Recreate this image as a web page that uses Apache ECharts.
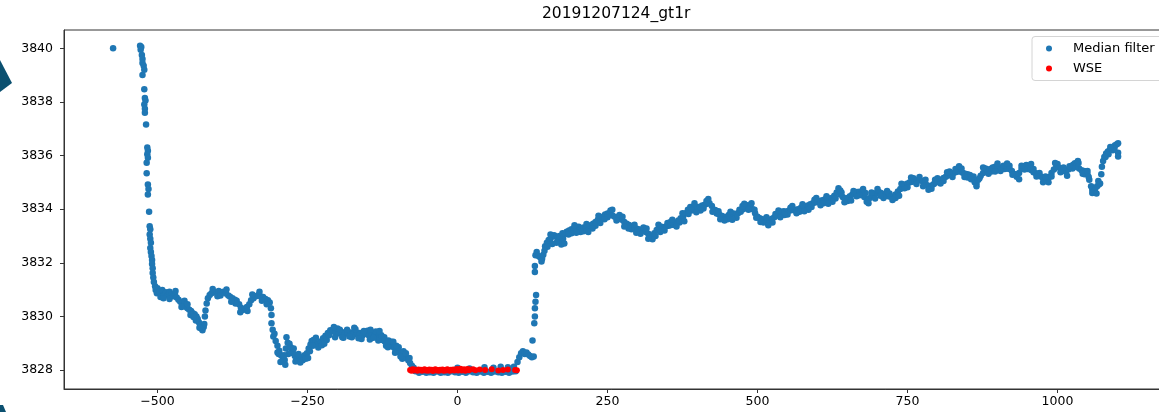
<!DOCTYPE html>
<html>
<head>
<meta charset="utf-8">
<script src="https://cdn.jsdelivr.net/npm/echarts@6/dist/echarts.min.js"></script>
<style>
html,body{margin:0;padding:0;background:#fff;}
#chart{width:1159px;height:412px;}
</style>
</head>
<body>
<div id="chart"></div>
<script>
// ---- data ----
const chartTitle = '20191207124_gt1r';
const seriesNames = ['Median filter', 'WSE'];
const xTickValues = [-500, -250, 0, 250, 500, 750, 1000];
const yTickValues = [3828, 3830, 3832, 3834, 3836, 3838, 3840];

// Median filter points: [along-track distance, elevation]
const medianFilter = [
  [-574,3840.0],
  [-529,3840.1],[-527,3840.05],[-528,3839.95],[-526,3839.75],[-525,3839.6],[-525,3839.45],[-523,3839.35],[-522,3839.2],[-525,3839.0],
  [-522,3838.47],[-521,3838.15],[-520,3838.05],[-522,3837.9],[-521,3837.75],[-521,3837.6],[-519,3837.16],
  [-517,3836.3],[-516,3836.18],[-517,3836.05],[-516,3835.92],[-518,3835.73],[-518,3835.34],[-516,3834.92],[-515,3834.75],[-516,3834.55],[-514,3833.9],[-513,3833.36],[-512,3833.25],[-513,3833.05],[-512,3832.9],[-511,3832.75],[-512,3832.55],[-511,3832.4],[-510,3832.25],[-509,3832.1],[-509,3831.95],[-508,3831.8],[-508,3831.62],[-507,3831.45],[-506,3831.28],[-504,3831.12],[-503,3830.98],[-501,3830.86],[-500,3831.05],
  [-497,3830.92],[-495,3830.72],[-492,3830.98],[-489,3830.8],[-486,3830.9],[-483,3830.78],[-480,3830.92],[-477,3830.82],[-474,3830.75],[-471,3830.85],[-468,3830.7],[-465,3830.62],[-462,3830.55],[-459,3830.5],[-456,3830.42],[-453,3830.36],[-450,3830.3],[-447,3830.25],[-444,3830.2],[-441,3830.12],[-438,3830.08],[-435,3830.0],[-433,3829.9],[-431,3829.78],[-429,3829.68],[-427,3829.55],[-425,3829.48],[-423,3829.6],[-422,3829.72],
  [-490,3830.68],[-480,3830.65],[-470,3830.95],[-455,3830.58],[-445,3830.05],[-436,3829.85],[-460,3830.35],[-450,3830.45],[-440,3829.98],[-430,3829.58],
  [-421,3830.0],[-420,3830.22],[-418,3830.48],[-416,3830.68],[-413,3830.8],[-410,3830.86],[-406,3830.92],[-402,3830.88],[-398,3830.95],[-394,3830.9],[-390,3830.92],[-386,3830.85],[-382,3830.78],[-379,3830.73],[-375,3830.68],[-371,3830.62],[-368,3830.58],[-364,3830.45],[-361,3830.32],[-358,3830.24],[-355,3830.28],[-351,3830.35],[-347,3830.45],[-344,3830.6],[-340,3830.68],[-336,3830.75],[-332,3830.8],[-328,3830.74],[-324,3830.72],[-320,3830.65],[-316,3830.6],[-313,3830.52],[-311,3830.3],[-310,3830.05],
  [-400,3830.75],[-385,3831.0],[-370,3830.48],[-350,3830.2],[-330,3830.92],[-318,3830.45],[-408,3831.02],[-395,3830.78],[-377,3830.55],[-362,3830.15],[-342,3830.82],[-326,3830.58],
  [-310,3829.74],[-308,3829.5],[-307,3829.25],[-303,3829.08],[-300,3828.9],[-297,3828.72],[-294,3828.55],[-291,3828.42],[-288,3828.37],[-286,3828.8],[-285,3829.22],[-283,3829.02],[-280,3828.98],[-277,3828.78],[-274,3828.62],[-271,3828.52],[-267,3828.46],[-263,3828.43],[-259,3828.48],[-255,3828.55],[-251,3828.62],[-248,3828.8],[-245,3828.95],[-243,3829.08],[-240,3829.12],[-237,3829.02],[-234,3828.96],[-231,3829.0],[-228,3829.06],[-224,3829.18],[-220,3829.28],[-216,3829.38],[-212,3829.48],[-208,3829.44],[-203,3829.4],[-198,3829.36],[-193,3829.42],[-188,3829.38],[-183,3829.35],[-178,3829.4],[-173,3829.36],[-168,3829.32],[-163,3829.38],[-158,3829.3],[-153,3829.35],[-148,3829.3],[-143,3829.34],[-138,3829.28],[-133,3829.36],[-129,3829.22],[-125,3829.12],[-121,3829.06],[-117,3829.02],[-113,3828.94],[-109,3828.88],[-105,3828.82],[-101,3828.76],[-97,3828.66],[-93,3828.6],[-89,3828.52],[-85,3828.46],[-82,3828.36],[-79,3828.26],[-76,3828.16],[-73,3828.08],
  [-295,3828.3],[-282,3828.6],[-270,3828.32],[-258,3828.36],[-246,3828.7],[-232,3828.84],[-218,3829.12],[-204,3829.22],[-190,3829.2],[-176,3829.22],[-160,3829.16],[-146,3829.14],[-132,3829.1],[-119,3828.9],[-104,3828.64],[-92,3828.42],
  [-200,3829.55],[-184,3829.5],[-170,3829.52],[-150,3829.46],[-136,3829.44],[-122,3829.22],[-110,3829.05],[-98,3828.85],
  [-305,3829.35],[-298,3828.6],[-289,3828.55],[-278,3828.85],[-265,3828.6],[-253,3828.42],[-241,3828.9],[-226,3828.92],[-214,3829.3],[-196,3829.5],[-180,3829.25],[-156,3829.45],[-140,3829.2],[-127,3829.3],[-115,3829.1],[-102,3828.9],[-90,3828.7],[-80,3828.45],
  [-300,3828.65],[-287,3828.2],[-273,3828.8],[-262,3828.28],[-249,3828.45],[-236,3829.2],[-222,3828.98],[-206,3829.6],[-192,3829.22],[-172,3829.58],[-165,3829.18],[-145,3829.5],[-130,3829.45],[-116,3828.85],[-107,3829.05],[-95,3828.5],[-86,3828.62],
  [-70,3827.95],[-64,3827.9],[-58,3827.93],[-52,3827.9],[-46,3827.92],[-40,3827.9],[-34,3827.94],[-28,3827.9],[-22,3827.92],[-16,3827.9],[-10,3827.95],[-4,3827.92],[2,3827.9],[8,3827.93],[14,3827.9],[20,3827.95],[26,3827.92],[32,3827.9],[38,3827.94],[44,3827.9],[50,3827.93],[56,3827.9],[62,3827.94],[68,3827.92],[74,3827.9],[80,3827.93],[86,3827.9],[92,3827.94],[97,3827.95],
  [0,3828.08],[20,3828.06],[45,3828.1],[60,3828.08],[72,3828.12],[84,3828.1],[94,3828.12],
  [100,3828.3],[103,3828.48],[106,3828.62],[109,3828.7],[112,3828.6],[115,3828.65],[118,3828.58],[121,3828.52],[124,3828.48],[127,3828.5],[125,3829.1],[128,3829.74],[129,3830.0],[129,3830.3],[130,3830.55],[131,3830.8],[129,3831.66],[129,3831.88],[130,3832.28],[132,3832.4],[135,3832.25],[138,3832.2],[141,3832.15],[143,3832.3],[146,3832.62],[149,3832.75],[152,3832.85],[155,3832.9],[158,3832.98],[161,3833.03],[164,3832.98],[167,3832.9],[170,3832.85],[173,3832.68],[176,3832.9],[179,3833.08],[182,3833.16],[186,3833.2],[190,3833.25],[194,3833.22],[198,3833.3],[202,3833.34],[206,3833.28],[210,3833.32],[214,3833.3],[218,3833.36],[222,3833.4],[226,3833.46],[230,3833.52],[234,3833.6],[238,3833.66],[242,3833.72],[246,3833.8],[250,3833.84],[254,3833.82],[258,3833.76],[262,3833.72],[266,3833.7],[270,3833.66],[274,3833.6],[278,3833.52],[282,3833.46],[286,3833.41],[290,3833.36],[294,3833.3],[298,3833.28],[302,3833.25],[306,3833.22],[310,3833.2],[314,3833.15],[318,3833.08],[322,3833.02],[325,3832.97],[328,3833.1],[332,3833.22],[336,3833.3],[340,3833.34],[344,3833.32],[348,3833.36],[352,3833.38],[356,3833.41],[360,3833.42],[364,3833.5],[368,3833.58],[372,3833.66],[376,3833.72],[380,3833.85],[384,3833.98],[388,3834.08],[392,3834.05],[396,3834.1],[400,3834.06],[404,3834.09],[408,3834.14],[412,3834.16],[416,3834.2],[420,3834.22],[424,3834.12],[428,3833.98],[432,3833.84],[436,3833.8],[440,3833.75],[444,3833.72],[448,3833.7],[452,3833.78],[456,3833.8],[460,3833.84],[464,3833.82],[468,3833.86],[472,3833.9],[476,3834.0],[480,3834.1],[484,3834.15],[488,3834.12],[492,3834.0],[496,3833.85],[500,3833.72],[504,3833.66],[508,3833.62],[512,3833.6],[516,3833.58],[520,3833.59],[524,3833.64],[528,3833.7],[532,3833.76],[536,3833.84],[540,3833.9],[544,3833.92],[548,3833.9],[552,3833.94],[556,3833.96],[560,3833.97],[564,3833.98],[568,3834.0],[572,3834.04],[576,3834.08],[580,3834.1],[584,3834.14],[588,3834.18],[592,3834.22],[596,3834.25],[600,3834.28],[604,3834.3],[608,3834.33],[612,3834.36],[616,3834.38],[620,3834.4],[624,3834.42],[628,3834.5],[632,3834.62],[635,3834.78],[638,3834.55],[642,3834.45],[646,3834.4],[650,3834.42],[654,3834.48],[658,3834.55],[662,3834.6],[666,3834.64],[670,3834.65],[674,3834.58],[678,3834.45],[682,3834.28],[686,3834.4],[690,3834.5],[694,3834.56],[698,3834.6],[702,3834.65],[706,3834.6],[710,3834.55],[714,3834.5],[718,3834.48],[722,3834.46],[726,3834.46],[730,3834.55],[734,3834.66],[738,3834.75],[742,3834.85],[746,3834.92],[750,3834.96],[754,3835.0],[758,3835.02],[762,3835.05],[766,3835.08],[770,3835.09],[774,3835.05],[778,3834.98],[782,3834.9],[786,3834.85],[790,3834.88],[794,3834.94],[798,3835.0],[802,3835.05],[806,3835.1],[810,3835.16],[814,3835.21],[818,3835.26],[822,3835.3],[826,3835.34],[830,3835.38],[834,3835.4],[838,3835.4],[842,3835.36],[846,3835.32],[850,3835.3],[854,3835.27],[858,3835.15],[862,3835.0],[865,3834.96],[868,3835.1],[872,3835.25],[876,3835.35],[880,3835.4],[884,3835.44],[888,3835.5],[892,3835.55],[896,3835.58],[900,3835.58],[904,3835.55],[908,3835.52],[912,3835.5],[916,3835.52],[920,3835.5],[924,3835.42],[928,3835.3],[932,3835.21],[936,3835.35],[940,3835.5],[944,3835.6],[948,3835.65],[952,3835.58],[956,3835.46],[960,3835.38],[964,3835.34],[968,3835.3],[972,3835.22],[976,3835.15],[980,3835.1],[983,3835.09],[986,3835.2],[990,3835.35],[994,3835.48],[998,3835.58],[1002,3835.55],[1006,3835.48],[1010,3835.42],[1014,3835.4],[1018,3835.48],[1022,3835.58],[1026,3835.66],[1029,3835.71],[1032,3835.62],[1036,3835.52],[1040,3835.45],[1044,3835.42],[1047,3835.4],[1050,3835.3],[1053,3835.1],[1056,3834.85],[1058,3834.72],[1060,3834.65],[1063,3834.78],[1066,3834.85],[1069,3834.92],[1071,3834.96],[1073,3835.3],[1074,3835.58],[1076,3835.8],[1078,3835.95],[1081,3836.08],[1084,3836.15],[1087,3836.2],[1090,3836.28],[1093,3836.33],[1096,3836.38],[1099,3836.42],[1101,3836.46],[1101,3836.1],[1101,3835.96],
  [150,3832.6],[170,3833.0],[190,3833.1],[210,3833.18],[230,3833.38],[250,3833.7],[270,3833.78],[290,3833.25],[310,3833.32],[330,3833.0],[350,3833.48],[370,3833.5],[390,3833.95],[410,3834.02],[430,3833.96],[450,3833.62],[470,3833.98],[490,3834.22],[510,3833.5],[530,3833.82],[550,3833.8],[570,3833.9],[590,3834.08],[610,3834.22],[630,3834.4],[650,3834.3],[670,3834.52],[690,3834.62],[710,3834.42],[730,3834.42],[750,3834.82],[770,3835.2],[790,3834.76],[810,3835.05],[830,3835.5],[850,3835.18],[870,3835.15],[890,3835.4],[910,3835.62],[930,3835.3],[950,3835.5],[970,3835.35],[990,3835.22],[1010,3835.55],[1030,3835.58],[1045,3835.3],[1062,3834.7],[1085,3836.05],[1095,3836.25],
  [145,3832.45],[165,3832.75],[185,3833.05],[205,3833.15],[225,3833.28],[245,3833.62],[265,3833.58],[285,3833.28],[305,3833.08],[325,3832.88],[345,3833.2],[365,3833.35],[385,3833.82],[405,3833.95],[425,3833.9],[445,3833.58],[465,3833.68],[485,3833.98],[505,3833.52],[525,3833.5],[545,3833.78],[565,3833.85],[585,3833.98],[605,3834.15],[625,3834.28],[645,3834.26],[665,3834.48],[685,3834.22],[705,3834.5],[725,3834.34],[745,3834.78],[765,3834.94],[785,3834.72],[805,3834.96],[825,3835.2],[845,3835.2],[865,3834.85],[885,3835.32],[905,3835.42],[925,3835.28],[945,3835.48],[965,3835.22],[985,3835.0],[1005,3835.38],[1025,3835.52],[1042,3835.32],[1058,3834.6],[1080,3835.95],[1092,3836.2],
  [155,3833.05],[175,3833.1],[195,3833.4],[215,3833.45],[235,3833.75],[255,3833.95],[275,3833.72],[295,3833.42],[315,3833.28],[335,3833.42],[355,3833.52],[375,3833.85],[395,3834.22],[415,3834.3],[435,3833.92],[455,3833.9],[475,3834.12],[495,3833.98],[515,3833.7],[535,3833.95],[555,3834.05],[575,3834.18],[595,3834.35],[615,3834.48],[640,3834.62],[660,3834.68],[680,3834.6],[700,3834.75],[720,3834.58],[740,3834.95],[760,3835.15],[780,3835.1],[800,3835.15],[820,3835.4],[840,3835.52],[860,3835.22],[880,3835.52],[900,3835.7],[920,3835.62],[940,3835.62],[960,3835.5],[980,3835.22],[1000,3835.68],[1020,3835.6],[1035,3835.72],[1050,3835.42],[1068,3835.05],[1088,3836.32],
  [140,3832.05],[158,3832.7],[178,3832.72],[198,3833.12],[218,3833.15],[238,3833.48],[258,3833.98],[278,3833.35],[298,3833.12],[318,3832.9],[338,3833.15],[358,3833.6],[378,3833.55],[398,3833.88],[418,3834.38],[438,3833.62],[458,3833.6],[478,3834.2],[498,3833.68],[518,3833.4],[538,3833.7],[558,3834.12],[578,3833.92],[598,3834.42],[618,3834.2],[638,3834.7],[656,3834.32],[676,3834.75],[696,3834.4],[716,3834.68],[736,3834.5],[756,3835.18],[776,3834.85],[796,3835.1],[816,3835.38],[836,3835.6],[856,3835.12],[876,3835.55],[896,3835.4],[916,3835.7],[936,3835.12],[956,3835.68],[976,3835.0],[996,3835.72],[1016,3835.25],[1034,3835.8],[1052,3835.2],[1065,3834.58]
];

// WSE points: [along-track distance, elevation]
const wse = [
  [-79,3828.0],[-77,3827.97],[-75,3828.03],[-73,3827.98],[-71,3828.02],[-69,3828.0],[-67,3827.97],[-65,3828.02],[-63,3827.99],[-61,3828.01],[-59,3827.97],[-57,3828.0],[-55,3828.03],[-53,3827.98],[-51,3828.0],[-49,3827.97],[-47,3828.02],[-45,3827.99],[-43,3828.01],[-41,3827.96],[-39,3828.0],[-37,3828.03],[-35,3827.98],[-33,3828.0],[-31,3827.97],[-29,3828.01],[-27,3827.99],[-25,3828.02],[-23,3827.97],[-21,3828.0],[-19,3827.98],[-17,3828.03],[-15,3828.0],[-13,3827.97],[-11,3828.01],[-9,3827.99],[-7,3828.02],[-5,3827.98],[-3,3828.0],[-1,3828.04],[1,3827.98],[3,3828.01],[5,3828.05],[7,3827.98],[9,3828.0],[11,3828.03],[13,3827.97],[15,3828.01],[17,3828.04],[19,3827.99],[21,3828.02],[26,3828.03],[30,3827.99],[37,3828.02],[46,3828.0],[57,3828.03],[68,3827.98],[76,3828.0],[84,3828.02],[96,3828.0],[99,3827.99]
];

const FONT = 'DejaVu Sans';
const chart = echarts.init(document.getElementById('chart'), null, {renderer: 'canvas'});
const option = {
  animation: false,
  backgroundColor: '#ffffff',
  title: {
    text: chartTitle,
    left: 542, top: 6, padding: 0,
    textStyle: {fontFamily: FONT, fontSize: 15.5, fontWeight: 'normal', color: '#000'}
  },
  legend: {
    data: seriesNames,
    orient: 'vertical',
    left: 1032, top: 36.5,
    padding: [5, 40, 5, 14],
    itemWidth: 6, itemHeight: 6, itemGap: 6,
    icon: 'circle',
    borderColor: '#d4d4d4', borderWidth: 1, borderRadius: 3,
    backgroundColor: '#ffffff',
    textStyle: {fontFamily: FONT, fontSize: 13, color: '#000', lineHeight: 14, padding: [0, 0, 0, 16]}
  },
  grid: {
    left: 64, top: 30, width: 1104.5, height: 359,
    outerBoundsMode: 'none',
    show: true, borderColor: '#333', borderWidth: 1, backgroundColor: 'transparent'
  },
  xAxis: {
    type: 'value', min: -655.8, max: 1185,
    splitLine: {show: false},
    axisLine: {show: true, onZero: false, lineStyle: {color: '#333', width: 1}},
    axisTick: {show: true, length: 4, customValues: xTickValues, lineStyle: {color: '#333'}},
    axisLabel: {
      customValues: xTickValues, margin: 6,
      fontFamily: FONT, fontSize: 12.5, color: '#000',
      formatter: v => String(v).replace('-', '\u2212')
    }
  },
  yAxis: {
    type: 'value', min: 3827.291, max: 3840.683,
    splitLine: {show: false},
    axisLine: {show: true, onZero: false, lineStyle: {color: '#333', width: 1}},
    axisTick: {show: true, length: 4, customValues: yTickValues, lineStyle: {color: '#333'}},
    axisLabel: {
      customValues: yTickValues, margin: 11,
      fontFamily: FONT, fontSize: 12.5, color: '#000',
      formatter: v => String(v)
    }
  },
  graphic: [
    {type: 'polygon', shape: {points: [[0, 60], [12, 83], [0, 92]]}, style: {fill: '#0b5070'}, z: 100},
    {type: 'polygon', shape: {points: [[0, 405], [3, 405], [6, 412], [0, 412]]}, style: {fill: '#0b5070'}, z: 100}
  ],
  series: [
    {
      name: seriesNames[0], type: 'scatter', data: medianFilter,
      symbol: 'circle', symbolSize: 6.5,
      itemStyle: {color: '#1f77b4', opacity: 1},
      emphasis: {disabled: true}
    },
    {
      name: seriesNames[1], type: 'scatter', data: wse,
      symbol: 'circle', symbolSize: 6,
      itemStyle: {color: '#ff0000', opacity: 1},
      emphasis: {disabled: true}
    }
  ]
};
chart.setOption(option);
</script>
</body>
</html>
